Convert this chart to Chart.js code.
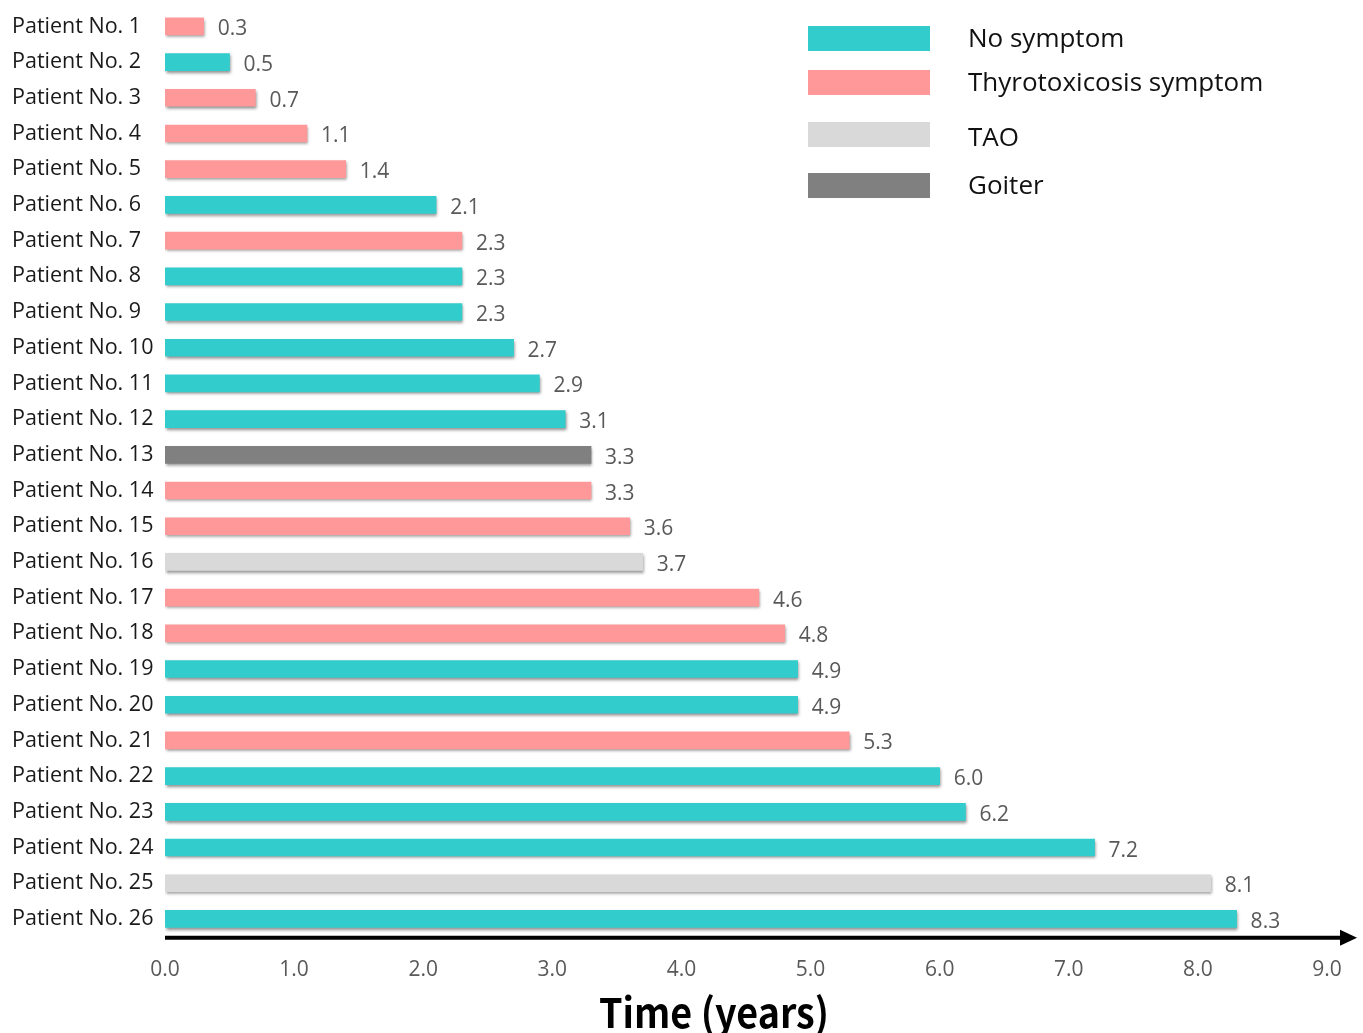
<!DOCTYPE html>
<html>
<head>
<meta charset="utf-8">
<script src="https://cdn.jsdelivr.net/npm/chart.js@4.4.0/dist/chart.umd.min.js"></script>
<style>
  html, body { margin: 0; padding: 0; background: #fff; }
  #wrap { width: 1363px; height: 1033px; position: relative; }
</style>
</head>
<body>
<div id="wrap"><canvas id="chart"></canvas></div>
<script>
let patients = [];
for (let i = 1; i <= 26; i++) patients.push("Patient No. " + i);

let years = [0.3, 0.5, 0.7, 1.1, 1.4, 2.1, 2.3, 2.3, 2.3, 2.7, 2.9, 3.1, 3.3,
  3.3, 3.6, 3.7, 4.6, 4.8, 4.9, 4.9, 5.3, 6.0, 6.2, 7.2, 8.1, 8.3];

// N = no symptom, T = thyrotoxicosis, A = TAO, G = goiter
let symptom = ["T", "N", "T", "T", "T", "N", "T", "N", "N", "N", "N", "N", "G",
  "T", "T", "A", "T", "T", "N", "N", "T", "N", "N", "N", "A", "N"];

let legendNames = ["No symptom", "Thyrotoxicosis symptom", "TAO", "Goiter"];
let legendKeys = ["N", "T", "A", "G"];
let symptomColors = { N: "#33CCCC", T: "#FF9999", A: "#D9D9D9", G: "#808080" };

let xTicks = [0, 1, 2, 3, 4, 5, 6, 7, 8, 9];
let xTitle = "Time (years)";

let fontFam = "'Open Sans', 'Noto Sans', sans-serif";

let shadowPlugin = {
  id: "shadow",
  beforeDatasetsDraw(chart) {
    let ctx = chart.ctx;
    ctx.save();
    ctx.shadowColor = "rgba(0,0,0,0.45)";
    ctx.shadowBlur = 3;
    ctx.shadowOffsetX = 1;
    ctx.shadowOffsetY = 2;
  },
  afterDatasetsDraw(chart) {
    chart.ctx.restore();
  },
};

let extrasPlugin = {
  id: "extras",
  afterDraw(chart) {
    let ctx = chart.ctx;
    let area = chart.chartArea;
    let meta = chart.getDatasetMeta(0);

    // value labels
    ctx.save();
    ctx.font = "21px " + fontFam;
    ctx.fillStyle = "#595959";
    ctx.textAlign = "left";
    ctx.textBaseline = "middle";
    meta.data.forEach((bar, i) => {
      ctx.fillText(years[i].toFixed(1), bar.x + 14, bar.y + 3);
    });
    ctx.restore();

    // axis arrow
    let y = area.bottom + 1;
    ctx.save();
    ctx.strokeStyle = "#000";
    ctx.fillStyle = "#000";
    ctx.lineWidth = 4;
    ctx.beginPath();
    ctx.moveTo(area.left, y);
    ctx.lineTo(area.right + 16, y);
    ctx.stroke();
    ctx.beginPath();
    ctx.moveTo(area.right + 30, y);
    ctx.lineTo(area.right + 13, y - 8);
    ctx.lineTo(area.right + 13, y + 8);
    ctx.closePath();
    ctx.fill();
    ctx.restore();

    // axis title, squeezed a little to match the original width
    ctx.save();
    ctx.font = "bold 41px 'Noto Sans CJK KR', " + fontFam;
    ctx.fillStyle = "#000";
    ctx.textAlign = "center";
    ctx.textBaseline = "alphabetic";
    let w = ctx.measureText(xTitle).width;
    let sx = Math.min(1, 230 / w);
    ctx.translate(714, 1028);
    ctx.scale(sx, 1);
    ctx.fillText(xTitle, 0, 0);
    ctx.restore();

    // legend
    ctx.save();
    ctx.font = "26px " + fontFam;
    ctx.textBaseline = "middle";
    let rows = [38, 82, 134, 185];
    let textRows = [40, 84, 139, 187];
    legendKeys.forEach((k, i) => {
      ctx.fillStyle = symptomColors[k];
      ctx.fillRect(808, rows[i] - 12, 122, 25);
      ctx.fillStyle = "#111";
      ctx.fillText(legendNames[i], 968, textRows[i]);
    });
    ctx.restore();
  },
};

new Chart(document.getElementById("chart"), {
  type: "bar",
  data: {
    labels: patients,
    datasets: [
      {
        data: years,
        backgroundColor: symptom.map((s) => symptomColors[s]),
        barThickness: 17,
        borderWidth: 0,
      },
    ],
  },
  options: {
    indexAxis: "y",
    responsive: true,
    maintainAspectRatio: false,
    animation: false,
    layout: { padding: { left: 12, right: 36, top: 0, bottom: 37 } },
    plugins: {
      legend: { display: false },
      tooltip: { enabled: false },
    },
    scales: {
      x: {
        min: 0,
        max: 9,
        afterBuildTicks: (axis) => {
          axis.ticks = xTicks.map((v) => ({ value: v }));
        },
        grid: { display: false },
        border: { display: false },
        ticks: {
          padding: 13,
          color: "#595959",
          font: { family: fontFam, size: 21 },
          callback: (v) => Number(v).toFixed(1),
        },
      },
      y: {
        afterFit: (axis) => {
          axis.width = 153;
        },
        grid: { display: false },
        border: { display: false },
        ticks: {
          crossAlign: "far",
          padding: 8,
          color: "#1a1a1a",
          font: { family: fontFam, size: 21.5, lineHeight: 0.05 },
        },
      },
    },
  },
  plugins: [shadowPlugin, extrasPlugin],
});
</script>
</body>
</html>
